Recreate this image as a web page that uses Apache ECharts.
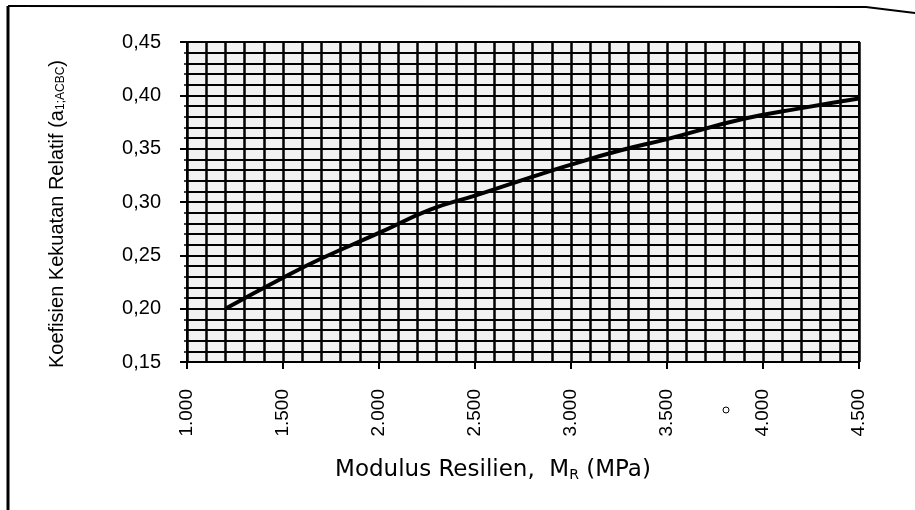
<!DOCTYPE html>
<html>
<head>
<meta charset="utf-8">
<script src="https://cdn.jsdelivr.net/npm/echarts@6/dist/echarts.min.js"></script>
<style>html,body{margin:0;padding:0;background:#fff;}#chart{width:915px;height:510px;}</style>
</head>
<body>
<div id="chart"></div>
<script>
// Data
var modulusMPa = [1200, 1500, 1700, 2000, 2270, 2500, 2770, 3000, 3250, 3500, 3900, 4200, 4500];
var koefisien  = [0.200, 0.229, 0.247, 0.271, 0.293, 0.306, 0.322, 0.335, 0.348, 0.359, 0.378, 0.388, 0.397];
var xTicks = [1000, 1500, 2000, 2500, 3000, 3500, 4000, 4500];
var yTicks = [0.15, 0.20, 0.25, 0.30, 0.35, 0.40, 0.45];

var chart = echarts.init(document.getElementById('chart'), null, {renderer: 'canvas'});
var pts = modulusMPa.map(function (m, i) { return [m, koefisien[i]]; });
var sans = '"Liberation Sans", Arial, sans-serif';

chart.setOption({
  animation: false,
  backgroundColor: '#ffffff',
  grid: {
    left: 187, right: 56, top: 42, bottom: 148,
    show: true, backgroundColor: '#f1f1f1', borderColor: '#000', borderWidth: 2
  },
  xAxis: {
    type: 'value', min: xTicks[0], max: xTicks[xTicks.length - 1], interval: 500,
    axisLine: {show: true, lineStyle: {color: '#000', width: 2}},
    axisTick: {show: true, length: 7, lineStyle: {color: '#000', width: 2}},
    minorTick: {show: false, splitNumber: 5},
    splitLine: {show: true, lineStyle: {color: '#000', width: 2.5}},
    minorSplitLine: {show: true, lineStyle: {color: '#000', width: 2.5}},
    axisLabel: {
      rotate: 90, margin: 27, color: '#000', fontSize: 19, fontFamily: sans,
      formatter: function (v) { return String(v).replace(/(\d)(\d{3})$/, '$1.$2'); }
    }
  },
  yAxis: {
    type: 'value', min: yTicks[0], max: yTicks[yTicks.length - 1], interval: 0.05,
    axisLine: {show: true, lineStyle: {color: '#000', width: 2}},
    axisTick: {show: true, length: 7, lineStyle: {color: '#000', width: 2}},
    minorTick: {show: true, splitNumber: 5, length: 3, lineStyle: {color: '#000', width: 1.5}},
    splitLine: {show: true, lineStyle: {color: '#000', width: 2}},
    minorSplitLine: {show: true, lineStyle: {color: '#000', width: 2}},
    axisLabel: {
      margin: 26, color: '#000', fontSize: 20, fontFamily: sans,
      formatter: function (v) { return v.toFixed(2).replace('.', ','); }
    }
  },
  series: [{
    type: 'line', data: pts, smooth: true, showSymbol: false,
    lineStyle: {color: '#000', width: 4}
  }],
  graphic: [
    {
      type: 'text', x: 57, y: 214, rotation: Math.PI / 2,
      style: {
        text: '{m|Koefisien Kekuatan Relatif (a}{s|1;ACBC}{m|)}',
        align: 'center', verticalAlign: 'middle',
        rich: {
          m: {fontSize: 20, fontFamily: sans, fill: '#000'},
          s: {fontSize: 12, fontFamily: sans, fill: '#000', padding: [8, 0, 0, 0]}
        }
      }
    },
    {
      type: 'text', x: 493, y: 470,
      style: {
        text: '{m|Modulus Resilien,  M}{s|R}{m| (MPa)}',
        align: 'center', verticalAlign: 'middle',
        rich: {
          m: {fontSize: 23, fontFamily: '"DejaVu Sans", sans-serif', fill: '#000'},
          s: {fontSize: 14, fontFamily: '"DejaVu Sans", sans-serif', fill: '#000', padding: [11, 0, 0, 0]}
        }
      }
    },
    {type: 'circle', shape: {cx: 726, cy: 410, r: 3}, style: {fill: 'none', stroke: '#000', lineWidth: 1}},
    {type: 'polyline', shape: {points: [[8, 6], [866, 7], [915, 13]]}, style: {stroke: '#000', lineWidth: 2, fill: null}},
    {type: 'line', shape: {x1: 8, y1: 6, x2: 8, y2: 510}, style: {stroke: '#000', lineWidth: 3}}
  ]
});
</script>
</body>
</html>
